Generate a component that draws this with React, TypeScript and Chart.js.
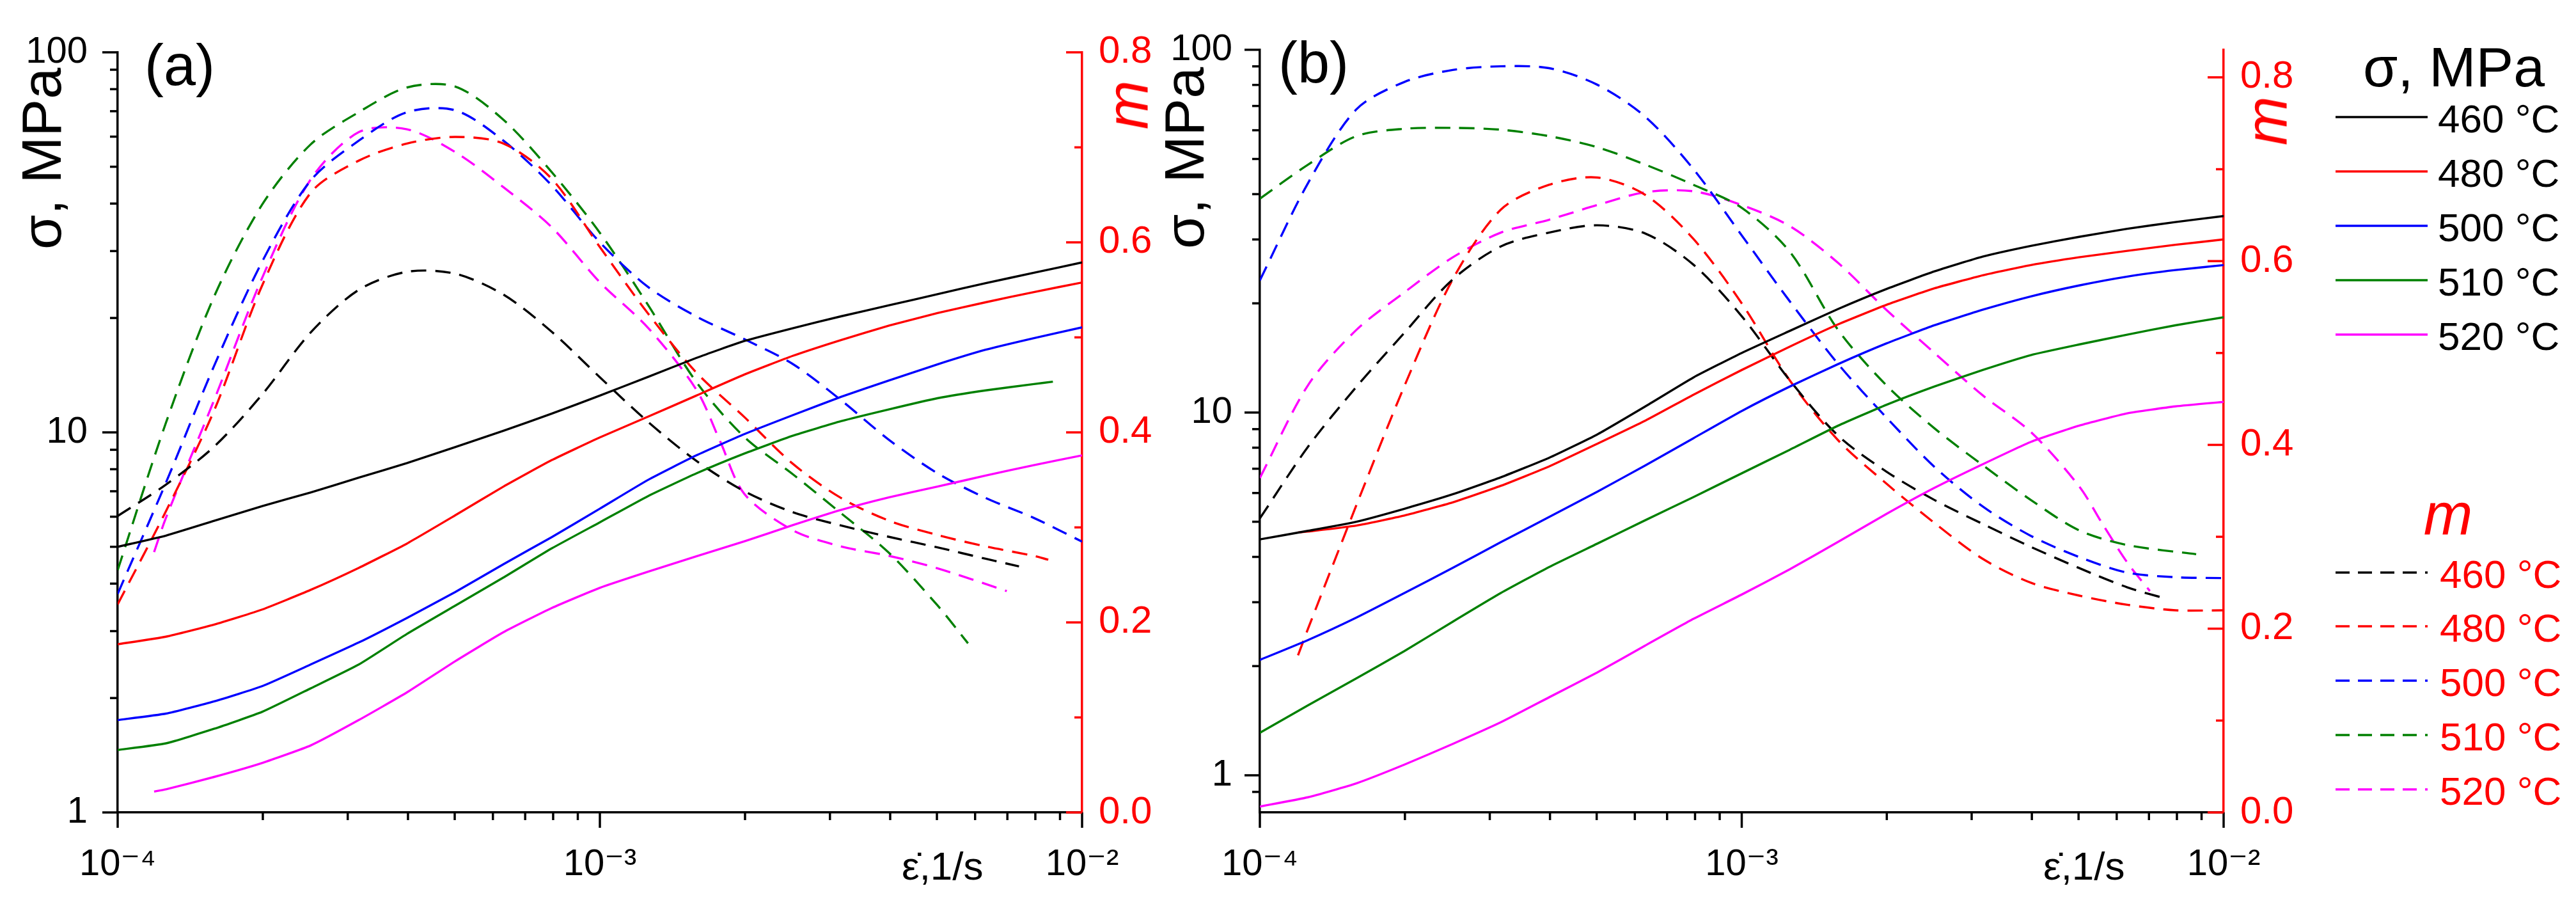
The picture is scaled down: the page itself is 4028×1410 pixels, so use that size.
import { useEffect, useRef } from 'react';
import { Chart, registerables } from 'chart.js';

Chart.register(...registerables);

const FONT = '"Liberation Sans", Arial, "DejaVu Sans", sans-serif';
const H = 1410;

// strain rate grid (1/s), 0.1 decade steps on the log axis
const RATE = [
  1e-4, 1.259e-4, 1.585e-4, 1.995e-4, 2.512e-4, 3.162e-4, 3.981e-4, 5.012e-4, 6.31e-4, 7.943e-4,
  1e-3, 1.259e-3, 1.585e-3, 1.995e-3, 2.512e-3, 3.162e-3, 3.981e-3, 5.012e-3, 6.31e-3, 7.943e-3, 1e-2,
];

// axis tick values
const RATE_TICKS = [1e-4, 2e-4, 3e-4, 4e-4, 5e-4, 6e-4, 7e-4, 8e-4, 9e-4, 1e-3, 2e-3, 3e-3, 4e-3, 5e-3, 6e-3, 7e-3, 8e-3, 9e-3, 1e-2];
const SIGMA_TICKS_A = [1, 2, 3, 4, 5, 6, 7, 8, 9, 10, 20, 30, 40, 50, 60, 70, 80, 90, 100];
const SIGMA_TICKS_B = [0.9, 1, 2, 3, 4, 5, 6, 7, 8, 9, 10, 20, 30, 40, 50, 60, 70, 80, 90, 100];
const M_TICKS = [0, 0.1, 0.2, 0.3, 0.4, 0.5, 0.6, 0.7, 0.8];

const TEMPS = ['460 °C', '480 °C', '500 °C', '510 °C', '520 °C'];
const COLORS = ['#000000', '#ff0000', '#0000ff', '#008000', '#ff00ff'];

// ---- panel (a): flow stress, MPa ----
const aSig460 = [5.0, 5.35, 5.85, 6.4, 6.95, 7.6, 8.3, 9.15, 10.1, 11.2, 12.5, 14.0, 15.7, 17.4, 18.8, 20.2, 21.6, 23.1, 24.7, 26.3, 28.0];
const aSig480 = [2.77, 2.9, 3.12, 3.42, 3.85, 4.4, 5.1, 6.05, 7.2, 8.45, 9.7, 11.0, 12.5, 14.2, 15.9, 17.5, 19.1, 20.6, 22.0, 23.4, 24.8];
const aSig500 = [1.75, 1.82, 1.96, 2.15, 2.45, 2.8, 3.25, 3.8, 4.5, 5.3, 6.3, 7.5, 8.7, 9.9, 11.1, 12.4, 13.7, 15.1, 16.5, 17.7, 18.9];
const aSig510Rate = [...RATE.slice(0, 20), 8.7e-3];
const aSig510 = [1.46, 1.52, 1.66, 1.84, 2.12, 2.45, 2.95, 3.5, 4.15, 4.95, 5.8, 6.8, 7.8, 8.8, 9.8, 10.7, 11.5, 12.3, 12.9, 13.4, 13.6];
const aSig520Rate = [1.19e-4, ...RATE.slice(1)];
const aSig520 = [1.135, 1.15, 1.24, 1.35, 1.5, 1.75, 2.07, 2.5, 2.98, 3.45, 3.9, 4.3, 4.72, 5.17, 5.7, 6.25, 6.75, 7.2, 7.7, 8.2, 8.7];

// ---- panel (a): strain rate sensitivity m ----
const aM460Rate = [...RATE.slice(0, 19), 7.4e-3];
const aM460 = [0.312, 0.345, 0.385, 0.44, 0.505, 0.55, 0.569, 0.567, 0.545, 0.506, 0.458, 0.411, 0.37, 0.338, 0.316, 0.302, 0.29, 0.279, 0.267, 0.259];
const aM480Rate = [...RATE.slice(0, 20), 8.51e-3];
const aM480 = [0.219, 0.317, 0.423, 0.555, 0.652, 0.686, 0.704, 0.711, 0.704, 0.667, 0.595, 0.525, 0.463, 0.416, 0.367, 0.331, 0.307, 0.292, 0.28, 0.27, 0.266];
const aM500 = [0.23, 0.347, 0.47, 0.58, 0.665, 0.707, 0.737, 0.739, 0.707, 0.66, 0.6, 0.553, 0.522, 0.498, 0.472, 0.434, 0.392, 0.357, 0.331, 0.31, 0.285];
const aM510Rate = [...RATE.slice(0, 18), 5.8e-3];
const aM510 = [0.255, 0.41, 0.543, 0.64, 0.703, 0.737, 0.763, 0.764, 0.729, 0.674, 0.61, 0.534, 0.453, 0.395, 0.356, 0.315, 0.273, 0.218, 0.178];
const aM520Rate = [1.19e-4, ...RATE.slice(1, 13), 1.778e-3, ...RATE.slice(13, 18), 6.98e-3];
const aM520 = [0.274, 0.31, 0.434, 0.563, 0.666, 0.716, 0.719, 0.695, 0.658, 0.616, 0.558, 0.51, 0.445, 0.39, 0.335, 0.297, 0.28, 0.27, 0.257, 0.233];

// ---- panel (b): flow stress, MPa ----
const bSig460 = [4.47, 4.72, 5.0, 5.43, 5.95, 6.63, 7.5, 8.7, 10.4, 12.5, 14.6, 16.8, 19.3, 21.9, 24.5, 26.9, 28.8, 30.5, 32.1, 33.5, 34.8];
const bSig480Rate = [1.2e-4, ...RATE.slice(1)];
const bSig480 = [4.67, 4.7, 4.88, 5.2, 5.65, 6.28, 7.1, 8.2, 9.5, 11.2, 13.1, 15.2, 17.5, 19.8, 22.0, 23.9, 25.5, 26.8, 27.9, 29.0, 30.0];
const bSig500 = [2.08, 2.36, 2.72, 3.18, 3.73, 4.39, 5.15, 6.05, 7.15, 8.5, 10.1, 11.8, 13.6, 15.5, 17.4, 19.2, 20.9, 22.4, 23.7, 24.7, 25.5];
const bSig510 = [1.31, 1.56, 1.85, 2.2, 2.65, 3.18, 3.75, 4.35, 5.05, 5.85, 6.8, 7.9, 9.2, 10.5, 11.8, 13.1, 14.4, 15.4, 16.4, 17.4, 18.3];
const bSig520 = [0.82, 0.87, 0.95, 1.07, 1.22, 1.4, 1.64, 1.92, 2.28, 2.7, 3.15, 3.7, 4.4, 5.25, 6.2, 7.2, 8.3, 9.2, 9.95, 10.4, 10.7];

// ---- panel (b): strain rate sensitivity m ----
const bM460Rate = [...RATE.slice(0, 19), 7.67e-3];
const bM460 = [0.32, 0.398, 0.463, 0.522, 0.58, 0.616, 0.631, 0.639, 0.63, 0.596, 0.54, 0.47, 0.41, 0.371, 0.34, 0.314, 0.289, 0.266, 0.245, 0.232];
const bM480Rate = [1.2e-4, ...RATE.slice(1)];
const bM480 = [0.171, 0.2, 0.334, 0.464, 0.58, 0.656, 0.683, 0.691, 0.672, 0.624, 0.554, 0.47, 0.405, 0.358, 0.315, 0.276, 0.25, 0.236, 0.226, 0.22, 0.22];
const bM500 = [0.579, 0.685, 0.765, 0.795, 0.808, 0.812, 0.81, 0.792, 0.757, 0.7, 0.628, 0.556, 0.488, 0.43, 0.376, 0.333, 0.301, 0.278, 0.261, 0.256, 0.255];
const bM510Rate = [...RATE.slice(0, 19), 8.77e-3];
const bM510 = [0.668, 0.705, 0.736, 0.744, 0.745, 0.743, 0.736, 0.724, 0.705, 0.683, 0.658, 0.61, 0.525, 0.465, 0.418, 0.378, 0.34, 0.307, 0.291, 0.281];
const bM520Rate = [...RATE.slice(0, 18), 5.62e-3, 6.31e-3, 7.03e-3];
const bM520 = [0.364, 0.465, 0.525, 0.566, 0.604, 0.631, 0.645, 0.661, 0.675, 0.676, 0.661, 0.638, 0.598, 0.547, 0.5, 0.454, 0.414, 0.355, 0.313, 0.272, 0.241];

type Series = { rates: number[]; values: number[]; color: number; dashed: boolean };

const SERIES_A: Series[] = [
  { rates: RATE, values: aSig460, color: 0, dashed: false },
  { rates: RATE, values: aSig480, color: 1, dashed: false },
  { rates: RATE, values: aSig500, color: 2, dashed: false },
  { rates: aSig510Rate, values: aSig510, color: 3, dashed: false },
  { rates: aSig520Rate, values: aSig520, color: 4, dashed: false },
  { rates: aM460Rate, values: aM460, color: 0, dashed: true },
  { rates: aM480Rate, values: aM480, color: 1, dashed: true },
  { rates: RATE, values: aM500, color: 2, dashed: true },
  { rates: aM510Rate, values: aM510, color: 3, dashed: true },
  { rates: aM520Rate, values: aM520, color: 4, dashed: true },
];

const SERIES_B: Series[] = [
  { rates: RATE, values: bSig460, color: 0, dashed: false },
  { rates: bSig480Rate, values: bSig480, color: 1, dashed: false },
  { rates: RATE, values: bSig500, color: 2, dashed: false },
  { rates: RATE, values: bSig510, color: 3, dashed: false },
  { rates: RATE, values: bSig520, color: 4, dashed: false },
  { rates: bM460Rate, values: bM460, color: 0, dashed: true },
  { rates: bM480Rate, values: bM480, color: 1, dashed: true },
  { rates: RATE, values: bM500, color: 2, dashed: true },
  { rates: bM510Rate, values: bM510, color: 3, dashed: true },
  { rates: bM520Rate, values: bM520, color: 4, dashed: true },
];

const SUP: Record<string, string> = { '-': '⁻', '0': '⁰', '1': '¹', '2': '²', '3': '³', '4': '⁴', '5': '⁵', '6': '⁶', '7': '⁷', '8': '⁸', '9': '⁹' };

const isPow10 = (v: number) => Math.abs(Math.log10(v) - Math.round(Math.log10(v))) < 1e-6;
const isMajorM = (v: number) => Math.abs(v * 5 - Math.round(v * 5)) < 1e-6;

function rateLabel(v: number) {
  if (!isPow10(v)) return '';
  const e = String(Math.round(Math.log10(v)));
  return '10' + e.split('').map((c) => SUP[c]).join('');
}

// outward ticks on the black axes, inward ticks on the red m axis
const tickMarks = {
  id: 'tickMarks',
  afterDraw(chart: any) {
    const { ctx, chartArea: a, scales } = chart;
    ctx.save();
    ctx.lineWidth = 3.5;
    ctx.lineCap = 'butt';
    ctx.strokeStyle = '#000';
    scales.x.ticks.forEach((t: any) => {
      const p = scales.x.getPixelForValue(t.value);
      const len = isPow10(t.value) ? 24 : 12;
      ctx.beginPath();
      ctx.moveTo(p, a.bottom);
      ctx.lineTo(p, a.bottom + len);
      ctx.stroke();
    });
    scales.y.ticks.forEach((t: any) => {
      const p = scales.y.getPixelForValue(t.value);
      const len = isPow10(t.value) ? 24 : 12;
      ctx.beginPath();
      ctx.moveTo(a.left, p);
      ctx.lineTo(a.left - len, p);
      ctx.stroke();
    });
    ctx.strokeStyle = '#ff0000';
    scales.m.ticks.forEach((t: any) => {
      const p = scales.m.getPixelForValue(t.value);
      const len = isMajorM(t.value) ? 25 : 12;
      ctx.beginPath();
      ctx.moveTo(a.right, p);
      ctx.lineTo(a.right - len, p);
      ctx.stroke();
    });
    ctx.restore();
  },
};

type PanelProps = {
  left: number;
  width: number;
  area: { left: number; right: number; top: number; bottom: number };
  sigmaMin: number;
  sigmaTicks: number[];
  mMax: number;
  series: Series[];
  yPad: number;
};

function Panel({ left, width, area, sigmaMin, sigmaTicks, mMax, series, yPad }: PanelProps) {
  const canvasRef = useRef<HTMLCanvasElement>(null);
  const chartRef = useRef<Chart | null>(null);

  useEffect(() => {
    if (!canvasRef.current) return;
    if (chartRef.current) chartRef.current.destroy();

    chartRef.current = new Chart(canvasRef.current, {
      type: 'line',
      data: {
        datasets: series.map((s) => ({
          data: s.values.map((v, i) => ({ x: s.rates[i], y: v })),
          borderColor: COLORS[s.color],
          borderWidth: 3.4,
          borderDash: s.dashed ? [24, 14] : [],
          pointRadius: 0,
          fill: false,
          tension: s.dashed ? 0.3 : 0.15,
          yAxisID: s.dashed ? 'm' : 'y',
        })),
      },
      options: {
        responsive: false,
        animation: false,
        devicePixelRatio: 1,
        events: [],
        layout: { padding: { top: area.top, left: 0, right: 0, bottom: 0 } },
        plugins: { legend: { display: false }, tooltip: { enabled: false } },
        scales: {
          x: {
            type: 'logarithmic',
            position: 'bottom',
            min: 1e-4,
            max: 1e-2,
            afterBuildTicks: (axis: any) => {
              axis.ticks = RATE_TICKS.map((v) => ({ value: v }));
            },
            afterFit: (axis: any) => {
              axis.height = H - area.bottom;
            },
            grid: { display: false, drawTicks: false },
            border: { display: true, color: '#000', width: 3.5 },
            ticks: {
              autoSkip: false,
              maxRotation: 0,
              padding: 47,
              color: '#000',
              font: { family: FONT, size: 58 },
              callback: (v: any) => rateLabel(Number(v)),
            },
          },
          y: {
            type: 'logarithmic',
            position: 'left',
            min: sigmaMin,
            max: 100,
            afterBuildTicks: (axis: any) => {
              axis.ticks = sigmaTicks.map((v) => ({ value: v }));
            },
            afterFit: (axis: any) => {
              axis.width = area.left;
            },
            grid: { display: false, drawTicks: false },
            border: { display: true, color: '#000', width: 3.5 },
            ticks: {
              autoSkip: false,
              padding: yPad,
              color: '#000',
              font: { family: FONT, size: 58 },
              callback: (v: any) => (isPow10(Number(v)) ? String(Math.round(Number(v))) : ''),
            },
          },
          m: {
            type: 'linear',
            position: 'right',
            min: 0,
            max: mMax,
            afterBuildTicks: (axis: any) => {
              axis.ticks = M_TICKS.map((v) => ({ value: v }));
            },
            afterFit: (axis: any) => {
              axis.width = width - area.right;
            },
            grid: { display: false, drawTicks: false },
            border: { display: true, color: '#ff0000', width: 3.5 },
            ticks: {
              autoSkip: false,
              padding: 26,
              color: '#ff0000',
              font: { family: FONT, size: 60 },
              callback: (v: any) => (isMajorM(Number(v)) ? Number(v).toFixed(1) : ''),
            },
          },
        },
      } as any,
      plugins: [tickMarks],
    });

    return () => {
      if (chartRef.current) {
        chartRef.current.destroy();
        chartRef.current = null;
      }
    };
  }, []);

  return (
    <canvas
      ref={canvasRef}
      width={width}
      height={H}
      style={{ position: 'absolute', left, top: 0, width, height: H }}
    />
  );
}

// text placed by its baseline (line-height = font size)
function Text({ x, baseline, size, color = '#000', italic = false, center = false, children }: any) {
  return (
    <div
      style={{
        position: 'absolute',
        left: x,
        top: baseline - 0.8465 * size,
        fontFamily: FONT,
        fontSize: size,
        lineHeight: `${size}px`,
        color,
        fontStyle: italic ? 'italic' : 'normal',
        whiteSpace: 'nowrap',
        transform: center ? 'translateX(-50%)' : undefined,
      }}
    >
      {children}
    </div>
  );
}

// text rotated to read bottom-to-top, centred on (cx, cy)
function VText({ cx, cy, size, color = '#000', italic = false, children }: any) {
  return (
    <div
      style={{
        position: 'absolute',
        left: cx,
        top: cy,
        fontFamily: FONT,
        fontSize: size,
        lineHeight: `${size}px`,
        color,
        fontStyle: italic ? 'italic' : 'normal',
        whiteSpace: 'nowrap',
        transform: 'translate(-50%, -50%) rotate(-90deg)',
      }}
    >
      {children}
    </div>
  );
}

const LEGEND_SIGMA_Y = [183, 268, 353, 438, 523];
const LEGEND_M_Y = [895, 979, 1064, 1149, 1234];

export default function App() {
  useEffect(() => {
    document.body.style.margin = '0';
  }, []);

  return (
    <div style={{ position: 'absolute', left: 0, top: 0, width: 4028, height: H, background: '#fff', overflow: 'hidden' }}>
      <Panel
        left={0}
        width={1805}
        area={{ left: 184, right: 1692, top: 57, bottom: 1270 }}
        sigmaMin={1}
        sigmaTicks={SIGMA_TICKS_A}
        mMax={0.8}
        series={SERIES_A}
        yPad={47}
      />
      <Panel
        left={1805}
        width={1805}
        area={{ left: 165, right: 1672, top: 55, bottom: 1270 }}
        sigmaMin={0.79}
        sigmaTicks={SIGMA_TICKS_B}
        mMax={0.83}
        series={SERIES_B}
        yPad={43}
      />

      <Text x={226} baseline={133} size={90}>(a)</Text>
      <Text x={1999} baseline={129} size={90}>(b)</Text>

      <VText cx={65} cy={248} size={88}>σ, MPa</VText>
      <VText cx={1852} cy={247} size={88}>σ, MPa</VText>
      <VText cx={1763} cy={164} size={92} color="#ff0000" italic>m</VText>
      <VText cx={3544} cy={189} size={92} color="#ff0000" italic>m</VText>

      <Text x={1410} baseline={1375} size={62}>ε̇,1/s</Text>
      <Text x={3195} baseline={1375} size={62}>ε̇,1/s</Text>

      <Text x={3837} baseline={135} size={88} center>σ, MPa</Text>
      <Text x={3828} baseline={836} size={92} color="#ff0000" italic center>m</Text>

      <svg style={{ position: 'absolute', left: 3600, top: 0 }} width={428} height={H}>
        {LEGEND_SIGMA_Y.map((y, i) => (
          <line key={'s' + i} x1={52} x2={196} y1={y} y2={y} stroke={COLORS[i]} strokeWidth={3.4} />
        ))}
        {LEGEND_M_Y.map((y, i) => (
          <line key={'m' + i} x1={52} x2={196} y1={y} y2={y} stroke={COLORS[i]} strokeWidth={3.4} strokeDasharray="22 13" />
        ))}
      </svg>
      {TEMPS.map((t, i) => (
        <Text key={'st' + i} x={3812} baseline={LEGEND_SIGMA_Y[i] + 24} size={62}>{t}</Text>
      ))}
      {TEMPS.map((t, i) => (
        <Text key={'mt' + i} x={3815} baseline={LEGEND_M_Y[i] + 24} size={62} color="#ff0000">{t}</Text>
      ))}
    </div>
  );
}
